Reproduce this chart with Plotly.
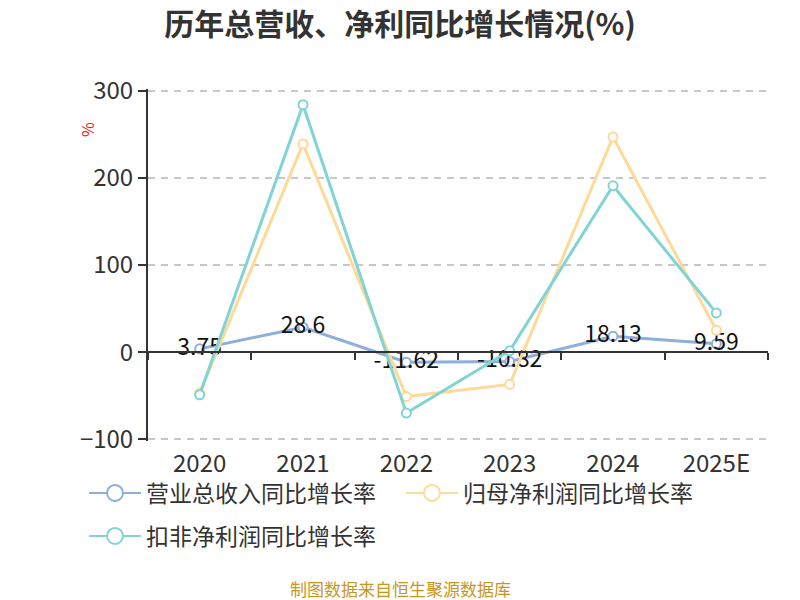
import plotly.graph_objects as go

years = ["2020", "2021", "2022", "2023", "2024", "2025E"]
revenue_growth = [3.75, 28.6, -11.62, -10.82, 18.13, 9.59]
parent_profit_growth = [-47, 239, -51, -37, 247, 25]
deducted_profit_growth = [-49, 284, -70, 1.5, 191, 45]

names = ["营业总收入同比增长率", "归母净利润同比增长率", "扣非净利润同比增长率"]
colors = ["#8EAEDC", "#FFD998", "#81D4D5"]
series = [revenue_growth, parent_profit_growth, deducted_profit_growth]
legend_ids = ["legend", "legend", "legend2"]

FONT = "Noto Sans CJK SC, Noto Sans, sans-serif"

# body margin is removed by post_script, so figure pixels == page pixels
W, H = 800, 600
YMIN, YMAX = -102, 302          # small padding so the -100/300 grid lines are drawn
PL, PR, PT, PB = 148, 768, 89, 441
PW, PH = PR - PL, PB - PT

fig = go.Figure()

for i, (nm, col, vals) in enumerate(zip(names, colors, series)):
    fig.add_trace(go.Scatter(
        x=years, y=vals, name=nm, mode="lines+markers+text" if i == 0 else "lines+markers",
        line=dict(color=col, width=3),
        marker=dict(symbol="circle", size=9, color="white", line=dict(color=col, width=2)),
        text=[f"{v:g}" for v in vals] if i == 0 else None,
        textposition="middle center",
        textfont=dict(size=23, color="#111111", family=FONT),
        showlegend=False, cliponaxis=False,
    ))

# legend-only entries with larger symbols
for nm, col, lg in zip(names, colors, legend_ids):
    fig.add_trace(go.Scatter(
        x=[None], y=[None], name=nm, mode="lines+markers", legend=lg,
        line=dict(color=col, width=2),
        marker=dict(symbol="circle", size=22, color="white", line=dict(color=col, width=2)),
        showlegend=True,
    ))

# invisible trace for zero-line axis with boundary ticks
fig.add_trace(go.Scatter(x=years, y=[None] * len(years), xaxis="x2", mode="lines",
                         showlegend=False, hoverinfo="skip"))

legend_common = dict(orientation="h", xref="paper", yref="paper",
                     xanchor="left", yanchor="middle",
                     font=dict(size=23, color="#333333", family=FONT), itemwidth=52,
                     entrywidth=250, entrywidthmode="pixels",
                     bgcolor="rgba(0,0,0,0)")

def px_x(page_x):
    return (page_x - PL) / PW

def px_y(page_y):
    return (PB - page_y) / PH

fig.update_layout(
    width=W, height=H,
    margin=dict(l=PL, r=W - PR, t=PT, b=H - PB, autoexpand=False),
    plot_bgcolor="white", paper_bgcolor="white",
    font=dict(family=FONT, color="#333333"),
    title=dict(text="<b>历年总营收、净利同比增长情况(%)</b>", x=0.5, xanchor="center",
               y=1 - 24 / H, yanchor="middle", font=dict(size=30, color="#333333")),
    xaxis=dict(type="category", categoryarray=years, range=[-0.5, 5.5],
               showline=False, ticks="", showgrid=False, zeroline=False,
               tickfont=dict(size=24, color="#333333"), ticklabelstandoff=6),
    xaxis2=dict(type="category", categoryarray=years, range=[-0.5, 5.5],
                overlaying="x", anchor="free", position=(0 - YMIN) / (YMAX - YMIN),
                showline=True, linecolor="#333333", linewidth=2,
                ticks="outside", ticklen=7, tickwidth=2, tickcolor="#333333",
                tickson="boundaries", showticklabels=False, showgrid=False, zeroline=False),
    yaxis=dict(range=[YMIN, YMAX], tickvals=[-100, 0, 100, 200, 300],
               showline=True, linecolor="#333333", linewidth=2,
               ticks="outside", ticklen=8, tickwidth=2, tickcolor="#333333",
               showgrid=True, gridcolor="#C8C8C8", griddash="7px,6px", gridwidth=1.5,
               zeroline=False, tickfont=dict(size=24, color="#333333")),
    legend=dict(**legend_common, x=px_x(84), y=px_y(493)),
    legend2=dict(**legend_common, x=px_x(84), y=px_y(536)),
    annotations=[
        dict(text="%", xref="paper", yref="paper", x=px_x(87), y=px_y(130),
             showarrow=False, textangle=-90, font=dict(size=16, color="#F01818", family=FONT),
             xanchor="center", yanchor="middle"),
        dict(text="制图数据来自恒生聚源数据库", xref="paper", yref="paper",
             x=px_x(400), y=px_y(588), showarrow=False,
             font=dict(size=17, color="#C8961E", family=FONT), xanchor="center", yanchor="middle"),
    ],
)

fig.write_html("out.html", config={"displayModeBar": False},
               post_script="document.body.style.margin='0';")
